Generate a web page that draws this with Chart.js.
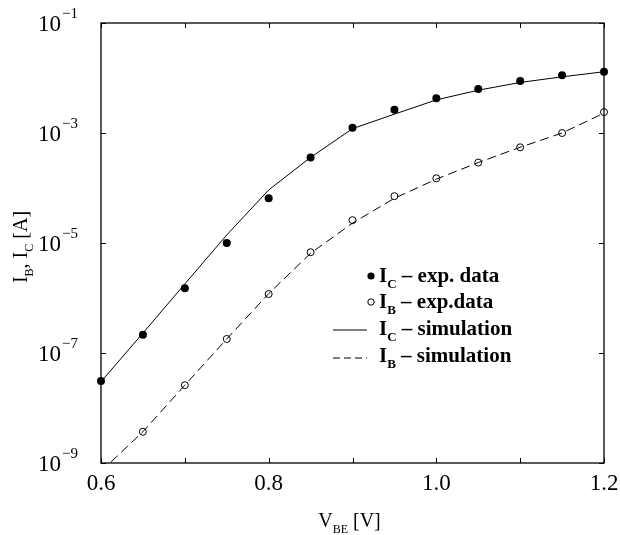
<!DOCTYPE html>
<html>
<head>
<meta charset="utf-8">
<script src="https://cdn.jsdelivr.net/npm/chart.js@4"></script>
<style>
  html, body { margin: 0; padding: 0; background: #fff; }
  canvas { display: block; }
</style>
</head>
<body>
<canvas id="c" width="620" height="535"></canvas>
<script>
// V_BE sweep [V]
const vbe   = [0.60, 0.65, 0.70, 0.75, 0.80, 0.85, 0.90, 0.95, 1.00, 1.05, 1.10, 1.15, 1.20];
// measured collector / base currents [A]
const icExp = [3.1e-8, 2.15e-7, 1.5e-6, 1.0e-5, 6.5e-5, 3.6e-4, 1.25e-3, 2.65e-3, 4.3e-3, 6.3e-3, 8.8e-3, 1.12e-2, 1.3e-2];
const ibExp = [null, 3.7e-9, 2.6e-8, 1.8e-7, 1.18e-6, 6.8e-6, 2.6e-5, 7.1e-5, 1.5e-4, 2.9e-4, 5.5e-4, 1.0e-3, 2.4e-3];
// simulated curves [A]
const icSim = [3.0e-8, 2.3e-7, 1.8e-6, 1.4e-5, 9.2e-5, 3.6e-4, 1.2e-3, 2.2e-3, 4.0e-3, 6.0e-3, 8.3e-3, 1.05e-2, 1.3e-2];
const ibSim = [7.0e-10, 3.7e-9, 2.6e-8, 1.8e-7, 1.2e-6, 6.5e-6, 2.3e-5, 6.5e-5, 1.45e-4, 2.9e-4, 5.5e-4, 1.0e-3, 2.3e-3];

const xTickVals  = [0.6, 0.7, 0.8, 0.9, 1.0, 1.1, 1.2];
const xLabelVals = [0.6, 0.8, 1.0, 1.2];
const yExps      = [-1, -3, -5, -7, -9];

const SERIF = '"Liberation Serif", "DejaVu Serif", serif';

function pts(ys) {
  return vbe.map((x, i) => ({ x, y: ys[i] })).filter(p => p.y !== null);
}

// text with sub / superscripts: parts = [[text, 'sub'|'sup'|''], ...]
function richWidth(ctx, parts, size, bold) {
  let w = 0;
  parts.forEach(([t, k]) => {
    const s = k ? Math.round(size * 0.62) : size;
    ctx.font = (bold ? 'bold ' : '') + s + 'px ' + SERIF;
    w += ctx.measureText(t).width;
  });
  return w;
}
function drawRich(ctx, parts, x, y, size, bold, align) {
  let cx = x;
  if (align === 'center') cx = x - richWidth(ctx, parts, size, bold) / 2;
  if (align === 'right') cx = x - richWidth(ctx, parts, size, bold);
  ctx.textBaseline = 'alphabetic';
  ctx.textAlign = 'left';
  parts.forEach(([t, k]) => {
    const s = k ? Math.round(size * 0.62) : size;
    ctx.font = (bold ? 'bold ' : '') + s + 'px ' + SERIF;
    let dy = 0;
    if (k === 'sub') dy = size * 0.28;
    if (k === 'sup') dy = -size * 0.45;
    ctx.fillText(t, cx, y + dy);
    cx += ctx.measureText(t).width;
  });
}

const decor = {
  id: 'decor',
  afterDatasetsDraw(chart) {
    const ctx = chart.ctx;
    const a = chart.chartArea;
    const xs = chart.scales.x, ys = chart.scales.y;
    ctx.save();
    ctx.fillStyle = '#000';
    ctx.strokeStyle = '#000';

    // frame
    ctx.lineWidth = 1.3;
    ctx.strokeRect(a.left, a.top, a.right - a.left, a.bottom - a.top);

    // inward ticks
    ctx.lineWidth = 1;
    ctx.beginPath();
    xTickVals.forEach(v => {
      const px = Math.round(xs.getPixelForValue(v)) + 0.5;
      ctx.moveTo(px, a.bottom); ctx.lineTo(px, a.bottom - 5);
      ctx.moveTo(px, a.top);    ctx.lineTo(px, a.top + 5);
    });
    yExps.forEach(e => {
      const py = Math.round(ys.getPixelForValue(Math.pow(10, e))) + 0.5;
      ctx.moveTo(a.left, py);  ctx.lineTo(a.left + 5, py);
      ctx.moveTo(a.right, py); ctx.lineTo(a.right - 5, py);
    });
    ctx.stroke();

    // x tick labels
    ctx.font = '23px ' + SERIF;
    ctx.textAlign = 'center';
    ctx.textBaseline = 'alphabetic';
    xLabelVals.forEach(v => {
      ctx.fillText(v.toFixed(1), xs.getPixelForValue(v), a.bottom + 27);
    });

    // y tick labels 10^e
    yExps.forEach(e => {
      const py = ys.getPixelForValue(Math.pow(10, e));
      ctx.font = '23px ' + SERIF;
      ctx.textAlign = 'right';
      ctx.fillText('10', a.left - 40, py + 8);
      ctx.font = '15px ' + SERIF;
      ctx.textAlign = 'left';
      ctx.fillText('\u2212' + Math.abs(e), a.left - 39, py - 5);
    });

    // axis titles
    drawRich(ctx, [['V', ''], ['BE', 'sub'], [' [V]', '']], (a.left + a.right) / 2 - 3, a.bottom + 64, 20, false, 'center');
    ctx.save();
    ctx.translate(27, (a.top + a.bottom) / 2 + 4);
    ctx.rotate(-Math.PI / 2);
    drawRich(ctx, [['I', ''], ['B', 'sub'], [', I', ''], ['C', 'sub'], [' [A]', '']], 0, 0, 20, false, 'center');
    ctx.restore();

    // legend
    const lx = 379, rows = [282, 308, 335, 362];
    const entries = [
      [['I', ''], ['C', 'sub'], [' \u2013 exp. data', '']],
      [['I', ''], ['B', 'sub'], [' \u2013 exp.data', '']],
      [['I', ''], ['C', 'sub'], [' \u2013 simulation', '']],
      [['I', ''], ['B', 'sub'], [' \u2013 simulation', '']]
    ];
    entries.forEach((p, i) => drawRich(ctx, p, lx, rows[i], 21, true, 'left'));
    ctx.beginPath();
    ctx.arc(371, rows[0] - 6, 3.6, 0, Math.PI * 2);
    ctx.fill();
    ctx.beginPath();
    ctx.arc(371, rows[1] - 6, 3.2, 0, Math.PI * 2);
    ctx.lineWidth = 1;
    ctx.stroke();
    ctx.beginPath();
    ctx.moveTo(333, rows[2] - 5); ctx.lineTo(367, rows[2] - 5);
    ctx.stroke();
    ctx.setLineDash([7, 4]);
    ctx.beginPath();
    ctx.moveTo(333, rows[3] - 4); ctx.lineTo(367, rows[3] - 4);
    ctx.stroke();
    ctx.restore();
  }
};

new Chart(document.getElementById('c'), {
  type: 'scatter',
  data: {
    datasets: [
      { label: 'IC sim', data: pts(icSim), showLine: true, borderColor: '#000', borderWidth: 1,
        pointRadius: 0, fill: false, tension: 0 },
      { label: 'IB sim', data: pts(ibSim), showLine: true, borderColor: '#000', borderWidth: 1,
        borderDash: [9, 5], pointRadius: 0, fill: false, tension: 0 },
      { label: 'IC exp', data: pts(icExp), showLine: false, pointRadius: 4, pointBackgroundColor: '#000',
        pointBorderColor: '#000', pointBorderWidth: 0, clip: false },
      { label: 'IB exp', data: pts(ibExp), showLine: false, pointRadius: 3.5, pointBackgroundColor: '#fff',
        pointBorderColor: '#000', pointBorderWidth: 1, clip: false }
    ]
  },
  options: {
    responsive: false,
    animation: false,
    events: [],
    layout: { padding: { left: 101, right: 16, top: 23, bottom: 72 } },
    plugins: { legend: { display: false }, tooltip: { enabled: false } },
    scales: {
      x: { type: 'linear', display: false, min: 0.6, max: 1.2 },
      y: { type: 'logarithmic', display: false, min: 1e-9, max: 1e-1 }
    }
  },
  plugins: [decor]
});
</script>
</body>
</html>
